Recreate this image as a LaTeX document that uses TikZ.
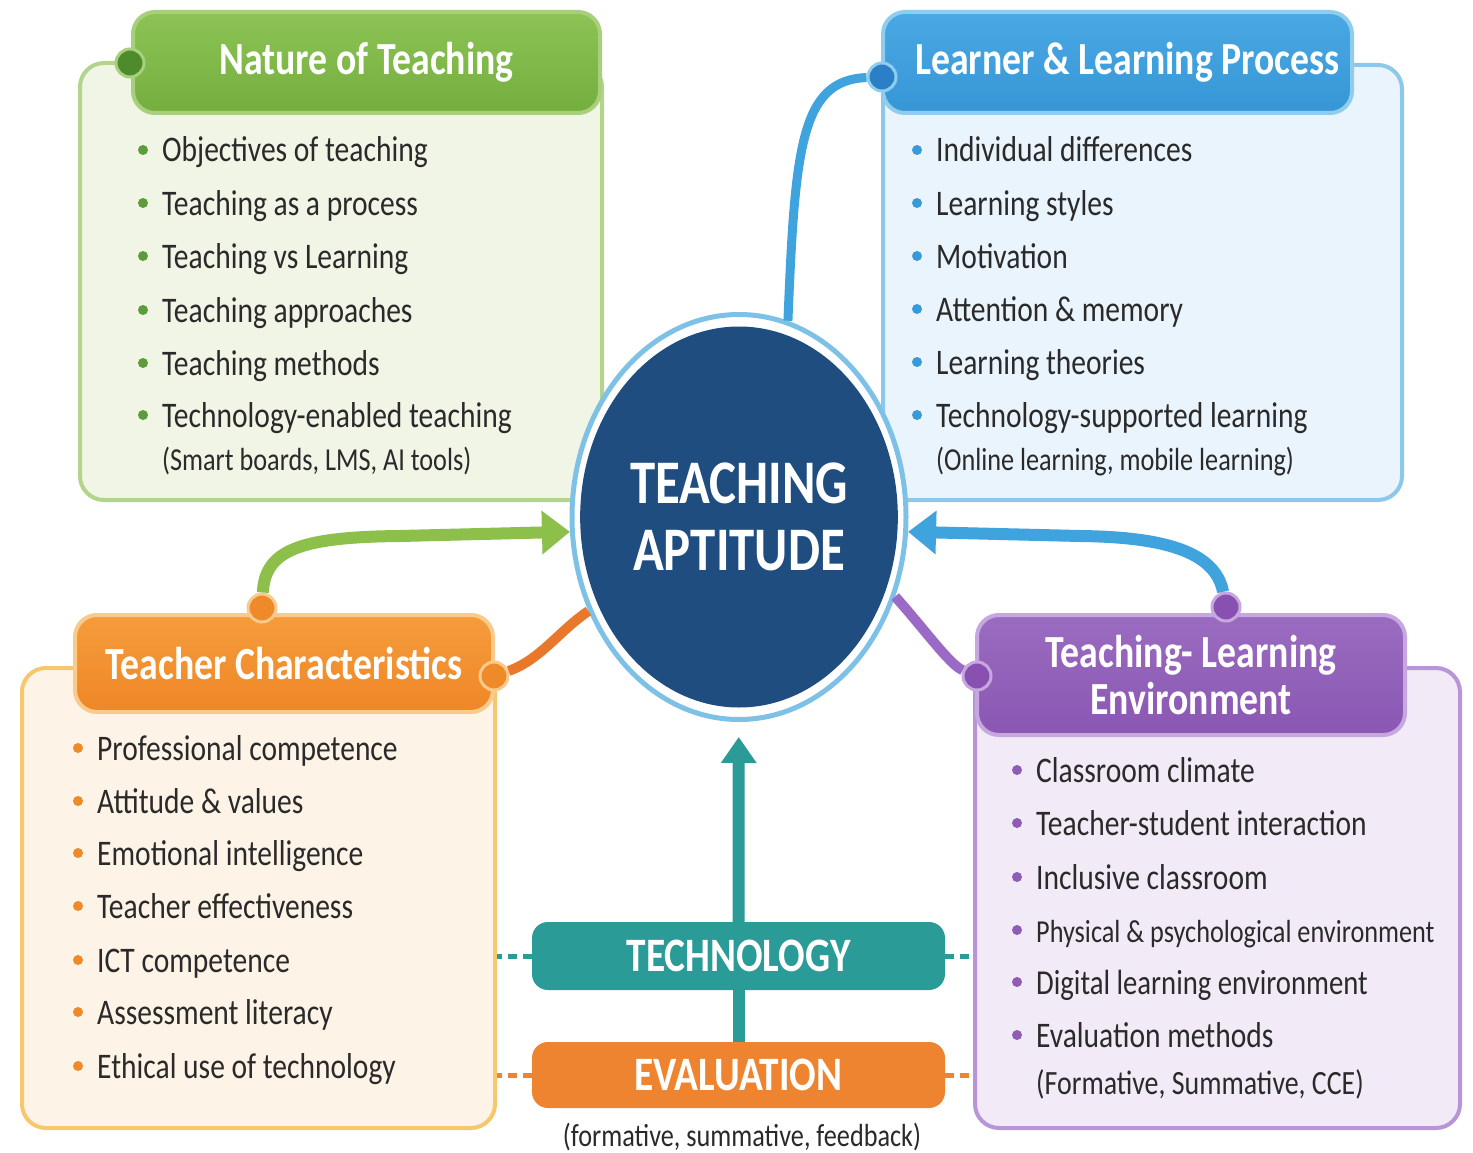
\documentclass[tikz,border=0pt]{standalone}
\usepackage{fontspec}
\setmainfont[FakeStretch=0.82]{Carlito}
\usetikzlibrary{positioning, arrows.meta, shapes.geometric}

\definecolor{ink}{HTML}{2A2A2A}
\definecolor{navy}{HTML}{1F4D80}
\definecolor{ringblue}{HTML}{7DC1E7}
\definecolor{ghead}{HTML}{74AE3D}
\definecolor{gtop}{HTML}{8DC356}
\definecolor{gedge}{HTML}{A8CF7C}
\definecolor{gfill}{HTML}{F0F5E6}
\definecolor{gline}{HTML}{B3D48B}
\definecolor{gdot}{HTML}{4E8B2D}
\definecolor{gbul}{HTML}{5E9B3A}
\definecolor{garrow}{HTML}{8DC04B}
\definecolor{bhead}{HTML}{3696D6}
\definecolor{btop}{HTML}{4AA8E3}
\definecolor{bedge}{HTML}{8FCDEF}
\definecolor{bfill}{HTML}{EAF4FC}
\definecolor{bline}{HTML}{8CC8EC}
\definecolor{bdot}{HTML}{2B7FC6}
\definecolor{bbul}{HTML}{3A9AD9}
\definecolor{barrow}{HTML}{3FA4DE}
\definecolor{ohead}{HTML}{EF8726}
\definecolor{otop}{HTML}{F59C3C}
\definecolor{oedge}{HTML}{F8CB8C}
\definecolor{ofill}{HTML}{FDF4E7}
\definecolor{oline}{HTML}{F6C86E}
\definecolor{odot}{HTML}{EF8A2B}
\definecolor{obul}{HTML}{EE8A2A}
\definecolor{oarrow}{HTML}{E9782A}
\definecolor{phead}{HTML}{8A57B3}
\definecolor{ptop}{HTML}{9A6CC0}
\definecolor{pedge}{HTML}{C6A7E0}
\definecolor{pfill}{HTML}{F2EAF7}
\definecolor{pline}{HTML}{B994D6}
\definecolor{pdot}{HTML}{8850B0}
\definecolor{pbul}{HTML}{8E5BB5}
\definecolor{parrow}{HTML}{9B6AC6}
\definecolor{techteal}{HTML}{2A9B97}
\definecolor{evalo}{HTML}{EE8430}

\newcommand\fItem{\fontsize{36}{40}\selectfont}
\newcommand\fNote{\fontsize{32}{36}\selectfont}
\newcommand\fHead{\fontsize{46}{47}\selectfont\bfseries}
\newcommand\fCore{\fontsize{62}{67}\selectfont\bfseries}
\newcommand\fBar{\fontsize{48}{52}\selectfont\bfseries}

\tikzset{
  head/.style      = {rounded corners=22pt, line width=4pt, inner sep=0pt, text=white, font=\fHead, align=center},
  panel/.style     = {rounded corners=24pt, line width=4pt, inner sep=0pt},
  joint/.style     = {circle, line width=3pt, inner sep=0pt, minimum size=28pt},
  bul/.style       = {circle, fill=#1, inner sep=0pt, minimum size=10pt},
  item/.style      = {anchor=base west, inner sep=0pt, font=\fItem, text=ink,
                      append after command={(\tikzlastnode.base west) node[bul=#1, xshift=-19pt, yshift=12pt]{}}},
  note/.style      = {anchor=base west, inner sep=0pt, font=\fNote, text=ink},
  bar/.style       = {rounded corners=16pt, inner sep=0pt, minimum width=413pt, text=white, font=\fBar},
  link/.style      = {line width=#1},
  arr/.style       = {-{Triangle[length=28pt, width=42pt]}},
  dash line/.style = {line width=5pt, dash pattern=on 9pt off 6pt}
}

\begin{document}
\begin{tikzpicture}[x=1pt, y=-1pt]
  \fill[white] (0,0) rectangle (1473,1153);
  \useasboundingbox (0,0) rectangle (1473,1153);

  % panel bodies
  \node[panel, draw=gline, fill=gfill, minimum width=522pt, minimum height=437pt] (gbody) at (341,281.5) {};
  \node[panel, draw=bline, fill=bfill, minimum width=519pt, minimum height=435pt] (bbody) at (1142.5,282.5) {};
  \node[panel, draw=oline, fill=ofill, minimum width=473pt, minimum height=460pt] (obody) at (258.5,898) {};
  \node[panel, draw=pline, fill=pfill, minimum width=485pt, minimum height=460pt] (pbody) at (1217.5,898) {};

  % panel headers
  \node[head, draw=gedge, top color=gtop, bottom color=ghead, minimum width=467pt, minimum height=101pt] (ghd) at (366.5,62.5) {Nature of Teaching};
  \node[head, draw=bedge, top color=btop, bottom color=bhead, minimum width=469pt, minimum height=101pt] (bhd) at (1117.5,62.5) {\hspace{20pt}Learner \& Learning Process};
  \node[head, draw=oedge, top color=otop, bottom color=ohead, minimum width=418pt, minimum height=97pt] (ohd) at (284,663.5) {Teacher Characteristics};
  \node[head, draw=pedge, top color=ptop, bottom color=phead, minimum width=428pt, minimum height=120pt] (phd) at (1191,675) {Teaching- Learning\\Environment};

  % joints
  \node[joint, draw=gedge, fill=gdot] (gjoint) at (130,63) {};
  \node[joint, draw=bedge, fill=bdot] (bjoint) at (882,77) {};
  \node[joint, draw=oedge, fill=odot] (ojtop)  at (262,608) {};
  \node[joint, draw=oedge, fill=odot] (ojside) at (494,676) {};
  \node[joint, draw=pedge, fill=pdot] (pjtop)  at (1226,607) {};
  \node[joint, draw=pedge, fill=pdot] (pjside) at (977,676) {};

  % centre
  \node[ellipse, draw=ringblue, line width=5pt, fill=white, minimum width=334pt, minimum height=405pt] (ring) at (739,517) {};
  \node[ellipse, fill=navy, minimum width=310pt, minimum height=381pt, text=white, font=\fCore, align=center] (core) at (ring) {TEACHING\\APTITUDE};

  % nature of teaching
  \node[item=gbul] (g1) at (162,162) {Objectives of teaching};
  \node[item=gbul] (g2) at (162,215) {Teaching as a process};
  \node[item=gbul] (g3) at (162,268) {Teaching vs Learning};
  \node[item=gbul] (g4) at (162,322) {Teaching approaches};
  \node[item=gbul] (g5) at (162,375) {Teaching methods};
  \node[item=gbul] (g6) at (162,427) {Technology-enabled teaching};
  \node[note]      (g7) at (162,470) {(Smart boards, LMS, AI tools)};

  % learner
  \node[item=bbul] (b1) at (936,162) {Individual differences};
  \node[item=bbul] (b2) at (936,215) {Learning styles};
  \node[item=bbul] (b3) at (936,268) {Motivation};
  \node[item=bbul] (b4) at (936,321) {Attention \& memory};
  \node[item=bbul] (b5) at (936,374) {Learning theories};
  \node[item=bbul] (b6) at (936,427) {Technology-supported learning};
  \node[note]      (b7) at (936,470) {(Online learning, mobile learning)};

  % teacher
  \node[item=obul] (o1) at (97,760)  {Professional competence};
  \node[item=obul] (o2) at (97,813)  {Attitude \& values};
  \node[item=obul] (o3) at (97,865)  {Emotional intelligence};
  \node[item=obul] (o4) at (97,918)  {Teacher effectiveness};
  \node[item=obul] (o5) at (97,972)  {ICT competence};
  \node[item=obul] (o6) at (97,1024) {Assessment literacy};
  \node[item=obul] (o7) at (97,1078) {Ethical use of technology};

  % environment
  \node[item=pbul] (p1) at (1036,782)  {Classroom climate};
  \node[item=pbul] (p2) at (1036,835)  {Teacher-student interaction};
  \node[item=pbul] (p3) at (1036,889)  {Inclusive classroom};
  \node[item=pbul, font=\fontsize{32}{36}\selectfont] (p4) at (1036,942) {Physical \& psychological environment};
  \node[item=pbul, font=\fontsize{35}{40}\selectfont] (p5) at (1036,994)  {Digital learning environment};
  \node[item=pbul] (p6) at (1036,1047) {Evaluation methods};
  \node[note, font=\fontsize{34}{36}\selectfont] (p7) at (1036,1094) {(Formative, Summative, CCE)};

  % bottom bars
  \node[bar, fill=techteal, minimum height=68pt] (tech) at (738.5,956) {TECHNOLOGY};
  \node[bar, fill=evalo, minimum height=66pt] (eval) at (738.5,1075) {EVALUATION};
  \node[font=\fNote, text=ink] (evalnote) at (742,1137) {(formative, summative, feedback)};

  % connectors
  \draw[link=12pt, garrow, arr] (ojtop) .. controls (265,550) and (300,537) .. (400,536) -- (ring.185);
  \draw[link=12pt, barrow, arr] (pjtop) .. controls (1215,550) and (1160,537) .. (1080,536) -- (ring.355);
  \draw[link=9pt, barrow] (ring.76) .. controls (795,150) and (800,80) .. (bjoint);
  \draw[link=10pt, oarrow] (ojside) .. controls (540,660) and (560,630) .. (ring.212);
  \draw[link=10pt, parrow] (ring.333) .. controls (925,630) and (950,665) .. (pjside);
  \draw[link=12pt, techteal, -{Triangle[length=26pt, width=34pt]}, shorten >=15pt] (tech) -- (ring);
  \draw[link=12pt, techteal] (tech) -- (eval);
  \draw[dash line, techteal] (tech.west) -- (tech.west -| obody.east);
  \draw[dash line, techteal] (tech.east) -- (tech.east -| pbody.west);
  \draw[dash line, evalo] (eval.west) -- (eval.west -| obody.east);
  \draw[dash line, evalo] (eval.east) -- (eval.east -| pbody.west);
\end{tikzpicture}
\end{document}
